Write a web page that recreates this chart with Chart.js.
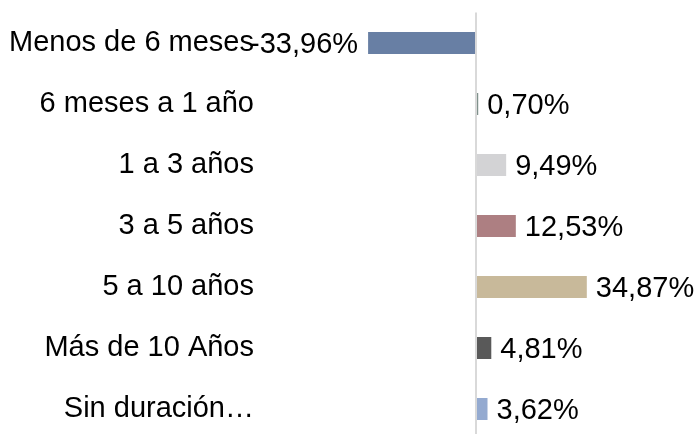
<!DOCTYPE html>
<html>
<head>
<meta charset="utf-8">
<script src="https://cdn.jsdelivr.net/npm/chart.js@4"></script>
<style>
  html, body { margin: 0; padding: 0; background: #fff; }
  #wrap { width: 694px; height: 434px; overflow: hidden; position: relative; }
  #wrap canvas { position: absolute; left: 0; top: 0; }
</style>
</head>
<body>
<div id="wrap"><canvas id="chart-area" width="694" height="440"></canvas></div>
<script>
var categories = [
  'Menos de 6 meses',
  '6 meses a 1 año',
  '1 a 3 años',
  '3 a 5 años',
  '5 a 10 años',
  'Más de 10 Años',
  'Sin duración…'
];
var values = [-33.96, 0.70, 9.49, 12.53, 34.87, 4.81, 3.62];
var barColors = ['#687fa4', '#7f918b', '#d3d3d5', '#ad7f82', '#c8b99a', '#595959', '#94aad0'];

var FONT = '"Liberation Sans", Arial, sans-serif';
var FONT_SIZE = 29;

var fmt = function(v) {
  return v.toFixed(2).replace('.', ',') + '%';
};

// labels at the end of each bar
var valueLabels = {
  id: 'valueLabels',
  afterDatasetsDraw: function(chart) {
    var ctx = chart.ctx;
    var meta = chart.getDatasetMeta(0);
    ctx.save();
    ctx.font = FONT_SIZE + 'px ' + FONT;
    ctx.fillStyle = '#000';
    ctx.textBaseline = 'middle';
    meta.data.forEach(function(bar, i) {
      var v = values[i];
      if (v < 0) {
        ctx.textAlign = 'right';
        ctx.fillText(fmt(v), bar.x - 10, bar.y + 2);
      } else {
        ctx.textAlign = 'left';
        ctx.fillText(fmt(v), bar.x + 9, bar.y + 2);
      }
    });
    ctx.restore();
  }
};

var config = {
  type: 'bar',
  data: {
    labels: categories,
    datasets: [{
      data: values,
      backgroundColor: barColors,
      borderWidth: 0,
      barPercentage: 0.36,
      categoryPercentage: 1
    }]
  },
  options: {
    indexAxis: 'y',
    responsive: false,
    animation: false,
    layout: { padding: { top: 12.5, bottom: 0.5, left: 0, right: 0 } },
    plugins: {
      legend: { display: false },
      tooltip: { enabled: false }
    },
    scales: {
      x: {
        min: -66.4,
        max: 68.6,
        ticks: { display: false, stepSize: 10 },
        border: { display: false },
        grid: {
          drawTicks: false,
          color: function(c) { return c.tick && c.tick.value === 0 ? '#d9d9d9' : 'rgba(0,0,0,0)'; },
          lineWidth: function(c) { return c.tick && c.tick.value === 0 ? 2 : 0; }
        },
        afterFit: function(scale) {
          scale.height = 0;
          scale.paddingLeft = 0;
          scale.paddingRight = 0;
        }
      },
      y: {
        border: { display: false },
        grid: { display: false, drawTicks: false },
        ticks: {
          color: '#000',
          padding: 11,
          font: { family: FONT, size: FONT_SIZE }
        },
        afterFit: function(scale) {
          scale.width = 265;
          scale.paddingTop = 0;
          scale.paddingBottom = 0;
        }
      }
    }
  },
  plugins: [valueLabels]
};

window.onload = function() {
  var ctx = document.getElementById('chart-area').getContext('2d');
  window.myBar = new Chart(ctx, config);
};
</script>
</body>
</html>
